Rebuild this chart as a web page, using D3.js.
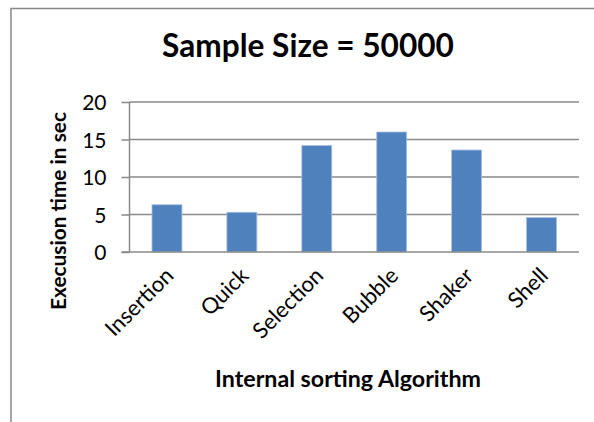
<!DOCTYPE html>
<html>
<head>
<meta charset="utf-8">
<script src="https://cdn.jsdelivr.net/npm/d3@7"></script>
<style>
  html, body { margin: 0; padding: 0; background: #fff; }
  svg { display: block; font-family: Lato, "Open Sans", sans-serif; }
</style>
</head>
<body>
<svg id="chart" width="594" height="422"></svg>
<script>
// Execution time per sorting algorithm, sample size 50000
const algorithms = ["Insertion", "Quick", "Selection", "Bubble", "Shaker", "Shell"];
const seconds = [6.3, 5.3, 14.2, 16.0, 13.6, 4.6];
const yTicks = [0, 5, 10, 15, 20];

const chartTitle = "Sample Size = 50000";
const xTitle = "Internal sorting Algorithm";
const yTitle = "Execusion time in sec";

const svg = d3.select("#chart");
const W = 594, H = 422;
const plot = { left: 129.5, right: 579, top: 102, bottom: 252 };

// Outer chart frame (continues past the right and bottom edges)
svg.append("rect")
  .attr("x", 11).attr("y", 8.5)
  .attr("width", W + 20).attr("height", H + 20)
  .attr("fill", "#fff")
  .attr("stroke", "#888").attr("stroke-width", 1.5);

const x = d3.scaleBand().domain(algorithms)
  .range([plot.left, plot.right]).paddingInner(0.6).paddingOuter(0.3);
const y = d3.scaleLinear().domain([0, 20]).range([plot.bottom, plot.top]);

// Horizontal gridlines
svg.append("g").selectAll("line").data(yTicks.filter(v => v > 0)).join("line")
  .attr("x1", plot.left).attr("x2", plot.right)
  .attr("y1", d => y(d)).attr("y2", d => y(d))
  .attr("stroke", "#8a8a8a").attr("stroke-width", 1.5);

// Bars
svg.append("g").selectAll("rect").data(algorithms).join("rect")
  .attr("x", d => x(d))
  .attr("y", (d, i) => y(seconds[i]))
  .attr("width", x.bandwidth())
  .attr("height", (d, i) => y(0) - y(seconds[i]))
  .attr("fill", "#4f81bd")
  .attr("stroke", "#a9c1e0").attr("stroke-width", 0.8);

// Y axis
const yAxis = d3.axisLeft(y).tickValues(yTicks).tickSize(8).tickPadding(15)
  .tickFormat(d3.format("d"));
const gy = svg.append("g").attr("transform", `translate(${plot.left},0)`).call(yAxis);
gy.attr("font-family", null).attr("font-size", null);
gy.select(".domain").attr("stroke", "#8a8a8a").attr("stroke-width", 1.5).attr("d", `M0,${plot.top}V${plot.bottom}`);
gy.selectAll(".tick line").attr("stroke", "#8a8a8a").attr("stroke-width", 1.5);
gy.selectAll(".tick text").attr("font-size", 21).attr("fill", "#000")
  .attr("dy", "0.36em");

// X axis with slanted category labels
const xAxis = d3.axisBottom(x).tickSize(0).tickPadding(0);
const gx = svg.append("g").attr("transform", `translate(0,${plot.bottom})`).call(xAxis);
gx.attr("font-family", null).attr("font-size", null);
gx.select(".domain").attr("stroke", "#8a8a8a").attr("stroke-width", 1.5)
  .attr("d", `M${plot.left - 8},0H${plot.right}`);
gx.selectAll(".tick text")
  .attr("font-size", 22).attr("fill", "#000")
  .attr("text-anchor", "end")
  .attr("x", 0).attr("y", 0).attr("dy", 0)
  .attr("transform", "translate(8,25) rotate(-45)");

// Fit a text element to a target width by adjusting its font size
function fitText(sel, target) {
  const w = sel.node().getComputedTextLength();
  const fs = parseFloat(sel.attr("font-size"));
  sel.attr("font-size", fs * target / w);
}

const t = svg.append("text")
  .attr("x", 308).attr("y", 57)
  .attr("text-anchor", "middle").attr("font-weight", "bold")
  .attr("font-size", 24).attr("fill", "#000")
  .text(chartTitle);
fitText(t, 292);

const xt = svg.append("text")
  .attr("x", 348).attr("y", 387)
  .attr("text-anchor", "middle").attr("font-weight", "bold")
  .attr("font-size", 18).attr("fill", "#000")
  .text(xTitle);
fitText(xt, 266);

const yt = svg.append("text")
  .attr("transform", "translate(66,211) rotate(-90)")
  .attr("text-anchor", "middle").attr("font-weight", "bold")
  .attr("font-size", 18).attr("fill", "#000")
  .text(yTitle);
fitText(yt, 198);
</script>
</body>
</html>
